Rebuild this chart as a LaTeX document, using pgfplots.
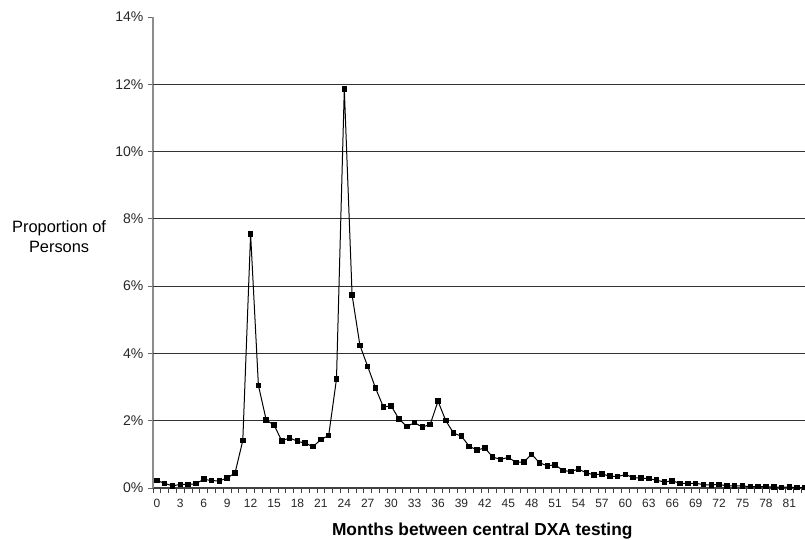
\documentclass[border=0pt]{standalone}
\usepackage{fontspec}
\setmainfont{Liberation Sans}
\usepackage{pgfplots}
\pgfplotsset{compat=1.18}

% months since previous central DXA scan, proportion of persons (%)
\pgfplotstableread{
m p
0 0.22
1 0.14
2 0.06
3 0.11
4 0.10
5 0.13
6 0.26
7 0.22
8 0.21
9 0.30
10 0.44
11 1.41
12 7.55
13 3.05
14 2.02
15 1.87
16 1.40
17 1.49
18 1.39
19 1.33
20 1.23
21 1.44
22 1.56
23 3.24
24 11.86
25 5.73
26 4.24
27 3.61
28 2.97
29 2.41
30 2.44
31 2.05
32 1.83
33 1.94
34 1.81
35 1.89
36 2.58
37 2.00
38 1.63
39 1.54
40 1.24
41 1.13
42 1.19
43 0.92
44 0.85
45 0.91
46 0.76
47 0.78
48 1.00
49 0.75
50 0.66
51 0.69
52 0.52
53 0.49
54 0.56
55 0.45
56 0.39
57 0.42
58 0.35
59 0.34
60 0.40
61 0.31
62 0.29
63 0.28
64 0.23
65 0.18
66 0.21
67 0.14
68 0.14
69 0.14
70 0.10
71 0.09
72 0.11
73 0.06
74 0.06
75 0.06
76 0.04
77 0.04
78 0.04
79 0.03
80 0.02
81 0.03
82 0.01
83 0.02
}\dxadata

\begin{document}
\begin{tikzpicture}
\begin{axis}[
  name=ax,
  scale only axis,
  width=489pt, height=353.25pt,
  xmin=-0.5, xmax=83, ymin=0, ymax=14,
  axis x line*=bottom, axis y line*=left,
  x axis line style={-, black!75, line width=0.8pt},
  y axis line style={-, black!45, line width=1.2pt},
  tick align=outside,
  /pgf/number format/assume math mode=true,
  xtick={0,3,...,81},
  major x tick style={draw=none},
  minor xtick={-0.5,0.5,...,82.5},
  minor x tick style={black!75, line width=0.6pt},
  minor tick length=3.75pt,
  ytick={0,2,...,14},
  y tick style={black!60, line width=0.6pt},
  major tick length=3.75pt,
  extra y ticks={2,4,...,12},
  extra y tick labels={},
  extra y tick style={grid=major, major tick length=0pt,
                      major grid style={black!80, line width=0.75pt}},
  yticklabel={\pgfmathprintnumber{\tick}\%},
  yticklabel style={font=\fontsize{10.5}{12}\selectfont, color=black!85},
  xticklabel style={font=\fontsize{9}{10}\selectfont, color=black!85, yshift=-1pt},
  xlabel={\bfseries Months between central DXA testing},
  xlabel style={font=\fontsize{13}{15}\selectfont, at={(axis description cs:0.505,-0.091)}, anchor=center},
  ylabel={Proportion of\\Persons},
  ylabel style={font=\fontsize{12.3}{15}\selectfont, rotate=-90, align=center,
                at={(axis description cs:-0.144,0.533)}, anchor=center},
  clip=false,
]
\addplot[black, line width=0.75pt, mark=square*, mark size=1.7pt] table[x=m, y=p] {\dxadata};
\end{axis}
\pgfresetboundingbox
\path[use as bounding box] ([xshift=-114.75pt,yshift=-39pt]ax.south west) rectangle ([yshift=12.75pt]ax.north east);
\end{tikzpicture}
\end{document}
